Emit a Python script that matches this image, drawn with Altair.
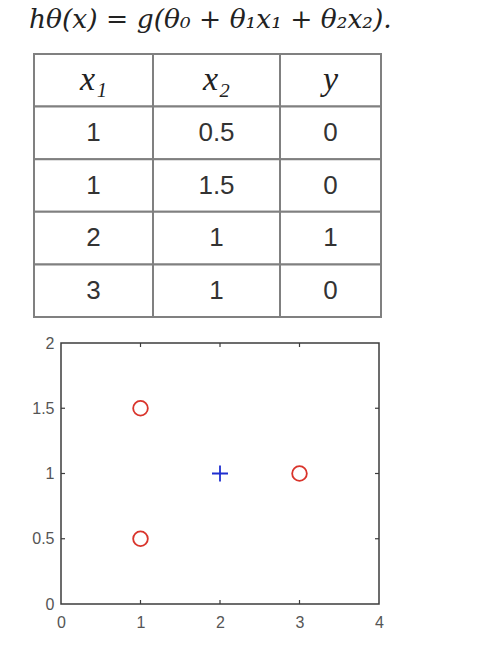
import altair as alt
import pandas as pd

# ---- data ----
formula = "hθ(x) = g(θ₀ + θ₁x₁ + θ₂x₂)."
headers = ["x₁", "x₂", "y"]
x1 = [1, 1, 2, 3]
x2 = [0.5, 1.5, 1, 1]
label = [0, 0, 1, 0]
x_ticks = [0, 1, 2, 3, 4]
y_ticks = [0, 0.5, 1, 1.5, 2]

columns = [x1, x2, label]
col_widths = [119, 127, 101]

GRID = "#808080"
AXIS = "#3c3c3c"


def table_column(i):
    values = columns[i]
    rows = pd.DataFrame({
        "row": list(range(len(values) + 1)),
        "text": [headers[i]] + [f"{v:g}" for v in values],
        "header": [True] + [False] * len(values),
    })
    base = alt.Chart(rows).encode(
        y=alt.Y("row:O", axis=None,
                scale=alt.Scale(paddingInner=0, paddingOuter=0))
    )
    cells = base.mark_rect(fill="white", stroke=GRID, strokeWidth=2)
    head = base.transform_filter("datum.header").mark_text(
        font="Liberation Serif", fontStyle="italic", fontSize=34, color="#222"
    ).encode(text="text:N")
    body = base.transform_filter("!datum.header").mark_text(
        font="Liberation Sans", fontSize=26, color="#333"
    ).encode(text="text:N")
    return alt.layer(cells, head, body).properties(width=col_widths[i], height=263)


table = alt.hconcat(*[table_column(i) for i in range(3)], spacing=0, bounds="flush")

# ---- scatter ----
pts = pd.DataFrame({"x1": x1, "x2": x2, "y": label})
xs = alt.Scale(domain=[0, 4], nice=False, zero=False)
ys = alt.Scale(domain=[0, 2], nice=False, zero=False)

x_axis = alt.Axis(values=x_ticks, ticks=False, domain=False, grid=False,
                  labelPadding=10, labelFont="Liberation Sans", labelFontSize=16,
                  labelColor="#555", labelFlush=False, format="~g")
y_axis = alt.Axis(values=y_ticks, ticks=False, domain=False, grid=False,
                  labelPadding=7, labelFont="Liberation Sans", labelFontSize=16,
                  labelColor="#555", labelFlush=False, format="~g")

base = alt.Chart(pts).encode(
    x=alt.X("x1:Q", scale=xs, axis=x_axis, title=None),
    y=alt.Y("x2:Q", scale=ys, axis=y_axis, title=None),
)
neg = base.transform_filter("datum.y == 0").mark_point(
    shape="circle", size=215, color="#d9342b", strokeWidth=1.8, filled=False, opacity=1
)
pos = base.transform_filter("datum.y == 1").mark_point(
    shape="M-1,0H1M0,-1V1", size=256, color="#1f2fd0", strokeWidth=1.8, filled=False, opacity=1
)

tx = pd.DataFrame({"v": x_ticks[1:-1]})
ty = pd.DataFrame({"v": y_ticks[1:-1]})
tick_style = dict(color=AXIS, thickness=1.2, size=4, opacity=1)
bottom = alt.Chart(tx).mark_tick(orient="vertical", yOffset=-2, **tick_style).encode(
    x=alt.X("v:Q", scale=xs, title=None), y=alt.datum(0, scale=ys))
top = alt.Chart(tx).mark_tick(orient="vertical", yOffset=2, **tick_style).encode(
    x=alt.X("v:Q", scale=xs, title=None), y=alt.datum(2, scale=ys))
left = alt.Chart(ty).mark_tick(orient="horizontal", xOffset=2, **tick_style).encode(
    y=alt.Y("v:Q", scale=ys, title=None), x=alt.datum(0, scale=xs))
right = alt.Chart(ty).mark_tick(orient="horizontal", xOffset=-2, **tick_style).encode(
    y=alt.Y("v:Q", scale=ys, title=None), x=alt.datum(4, scale=xs))

scatter = alt.layer(neg, pos, bottom, top, left, right).properties(
    width=318, height=261,
    view=alt.ViewBackground(stroke=AXIS, strokeWidth=1.5),
)

spacer = alt.Chart(pd.DataFrame({"s": [0]})).mark_point(opacity=0).properties(
    width=27, height=261)

bottom_row = alt.hconcat(spacer, scatter, spacing=0, bounds="flush")

chart = alt.vconcat(table, bottom_row, spacing=16).properties(
    title=alt.TitleParams(
        formula, anchor="start", font="DejaVu Serif", fontStyle="italic",
        fontWeight="normal", fontSize=26.5, color="#222", offset=20, dx=-2,
    ),
    padding={"left": 29, "top": 6, "right": 0, "bottom": 0},
).configure_view(stroke=None)

chart.save("out.html", embed_options={"renderer": "svg", "actions": False})
